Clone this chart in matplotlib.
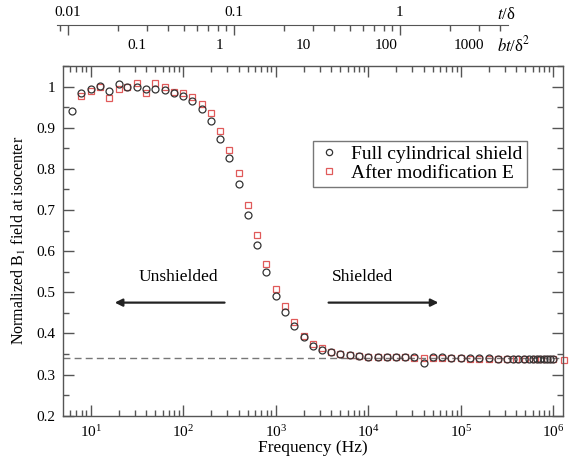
import numpy as np
import matplotlib
matplotlib.use("Agg")
import matplotlib.pyplot as plt
from matplotlib.ticker import LogLocator, FixedLocator, MultipleLocator, FormatStrFormatter, NullFormatter
from matplotlib.transforms import blended_transform_factory

#Data
freq_full = [6.3, 7.9, 10, 12.6, 15.8, 20, 25, 31.6, 40, 50, 63, 79, 100, 126, 158, 200,
             251, 316, 398, 501, 631, 794, 1000, 1260, 1580, 2000, 2510, 3160, 3980, 5010,
             6310, 7940, 1e4, 1.26e4, 1.58e4, 2e4, 2.51e4, 3.16e4, 3.98e4, 5.01e4, 6.31e4,
             7.94e4, 1e5, 1.26e5, 1.58e5, 2e5, 2.51e5, 3.16e5, 3.7e5, 4.2e5, 4.8e5, 5.4e5,
             6e5, 6.6e5, 7.2e5, 7.9e5, 8.6e5, 9.3e5, 1e6]
b1_full = [0.941, 0.984, 0.993, 1.001, 0.989, 1.005, 0.999, 1.000, 0.994, 0.994, 0.991, 0.985,
           0.976, 0.965, 0.946, 0.917, 0.872, 0.827, 0.764, 0.689, 0.615, 0.550, 0.490, 0.453,
           0.417, 0.391, 0.370, 0.360, 0.354, 0.350, 0.347, 0.345, 0.344, 0.344, 0.343, 0.343,
           0.342, 0.342, 0.328, 0.342, 0.342, 0.341, 0.341, 0.340, 0.340, 0.340, 0.339, 0.339,
           0.338, 0.338, 0.339, 0.337, 0.338, 0.338, 0.337, 0.338, 0.337, 0.338, 0.337]

freq_mod = [7.9, 10, 12.6, 15.8, 20, 25, 31.6, 40, 50, 63, 79, 100, 126, 158, 200,
            251, 316, 398, 501, 631, 794, 1000, 1260, 1580, 2000, 2510, 3160, 3980, 5010,
            6310, 7940, 1e4, 1.26e4, 1.58e4, 2e4, 2.51e4, 3.16e4, 3.98e4, 5.01e4, 6.31e4,
            7.94e4, 1e5, 1.26e5, 1.58e5, 2e5, 2.51e5, 3.16e5, 4e5, 5e5, 6.3e5, 7.4e5,
            8.6e5, 1e6, 1.3e6]
b1_mod = [0.977, 0.990, 1.000, 0.972, 0.993, 0.998, 1.009, 0.985, 1.009, 0.999, 0.987, 0.985,
          0.974, 0.958, 0.935, 0.892, 0.846, 0.790, 0.711, 0.640, 0.570, 0.507, 0.468, 0.429,
          0.394, 0.374, 0.364, 0.356, 0.351, 0.348, 0.346, 0.344, 0.343, 0.343, 0.342, 0.342,
          0.341, 0.341, 0.341, 0.341, 0.340, 0.340, 0.339, 0.339, 0.339, 0.338, 0.338, 0.337,
          0.338, 0.337, 0.337, 0.337, 0.337, 0.336]

shield_level = 0.341
top_labels = [0.1, 1, 10, 100, 1000]   # bt/delta^2
k_bt = 147.0                           # bt/delta^2 = k*(t/delta)^2

#Style
plt.rcParams['font.family'] = ['Liberation Serif', 'DejaVu Serif']
plt.rcParams['mathtext.fontset'] = 'stix'
edge = '#555555'
red = '#e05a5a'

fig = plt.figure(figsize=(5.8, 4.61), dpi=100)
ax = fig.add_axes([0.109, 0.098, 0.862, 0.759])

ax.plot(freq_full, b1_full, 'o', ms=5.0, mfc='none', mec='#333333', mew=0.9,
        label='Full cylindrical shield', zorder=3)
ax.plot(freq_mod, b1_mod, 's', ms=4.6, mfc='none', mec=red, mew=0.9,
        label='After modification E', zorder=2, clip_on=False)
ax.axhline(shield_level, color='#777777', ls=(0, (5, 3)), lw=1.0, zorder=1)

ax.set_xscale('log')
ax.set_xlim(5.05, 1.28e6)
ax.set_ylim(0.2, 1.05)
ax.yaxis.set_major_locator(FixedLocator([0.2, 0.3, 0.4, 0.5, 0.6, 0.7, 0.8, 0.9, 1.0]))
ax.yaxis.set_minor_locator(MultipleLocator(0.05))
ax.yaxis.set_major_formatter(FormatStrFormatter('%g'))
ax.xaxis.set_major_locator(LogLocator(base=10, numticks=10))
ax.xaxis.set_minor_locator(LogLocator(base=10, subs=np.arange(2, 10), numticks=20))
ax.xaxis.set_minor_formatter(NullFormatter())

ax.tick_params(which='both', direction='in', top=True, right=True, color=edge,
               labelsize=11, width=1.0)
ax.tick_params(which='major', length=8, pad=6)
ax.tick_params(which='minor', length=4)
for s in ax.spines.values():
    s.set_color(edge)
    s.set_linewidth(1.0)

ax.set_xlabel('Frequency (Hz)', fontsize=12.5, labelpad=0)
ax.set_ylabel(r'Normalized B$_1$ field at isocenter', fontsize=11.5, labelpad=6)

leg = ax.legend(loc='upper left', bbox_to_anchor=(0.499, 0.786), borderaxespad=0,
                fancybox=False, fontsize=14, handletextpad=0.5, handlelength=1.2,
                borderpad=0.25, labelspacing=0.05, markerscale=0.9)
leg.get_frame().set_edgecolor(edge)
leg.get_frame().set_linewidth(1.0)

#Arrows
ax.annotate('', xy=(17, 0.475), xytext=(300, 0.475),
            arrowprops=dict(arrowstyle='-|>', lw=1.6, color='#222222', mutation_scale=11))
ax.text(88, 0.538, 'Unshielded', ha='center', va='center', fontsize=12.5)
ax.annotate('', xy=(61500, 0.475), xytext=(3480, 0.475),
            arrowprops=dict(arrowstyle='-|>', lw=1.6, color='#222222', mutation_scale=11))
ax.text(8750, 0.538, 'Shielded', ha='center', va='center', fontsize=12.5)

#Top axis t/delta
ax2 = fig.add_axes([0.098, 0.945, 0.778, 0.001])
ax2.set_xscale('log')
ax2.set_xlim(0.00859, 4.48)
ax2.set_yticks([])
for side in ['left', 'right', 'bottom']:
    ax2.spines[side].set_visible(False)
ax2.spines['top'].set_color(edge)
ax2.xaxis.tick_top()
ax2.xaxis.set_major_locator(FixedLocator([0.01, 0.1, 1]))
ax2.xaxis.set_major_formatter(FormatStrFormatter('%g'))
ax2.xaxis.set_minor_locator(LogLocator(base=10, subs=np.arange(2, 10), numticks=20))
ax2.xaxis.set_minor_formatter(NullFormatter())
ax2.tick_params(which='both', direction='in', color=edge, labelsize=11, width=1.0)
ax2.tick_params(which='major', length=7, pad=4)
ax2.tick_params(which='minor', length=4)
ax2.patch.set_visible(False)

trans = blended_transform_factory(ax2.transData, fig.transFigure)
for b in top_labels:
    ax2.text(np.sqrt(b / k_bt), 0.902, '%g' % b, transform=trans, ha='center',
             va='center', fontsize=11)
fig.text(0.857, 0.967, r'$t$/δ', ha='left', va='center', fontsize=12)
fig.text(0.857, 0.902, r'$bt$/δ$^2$', ha='left', va='center', fontsize=12)

fig.savefig('out.png', dpi=100)
